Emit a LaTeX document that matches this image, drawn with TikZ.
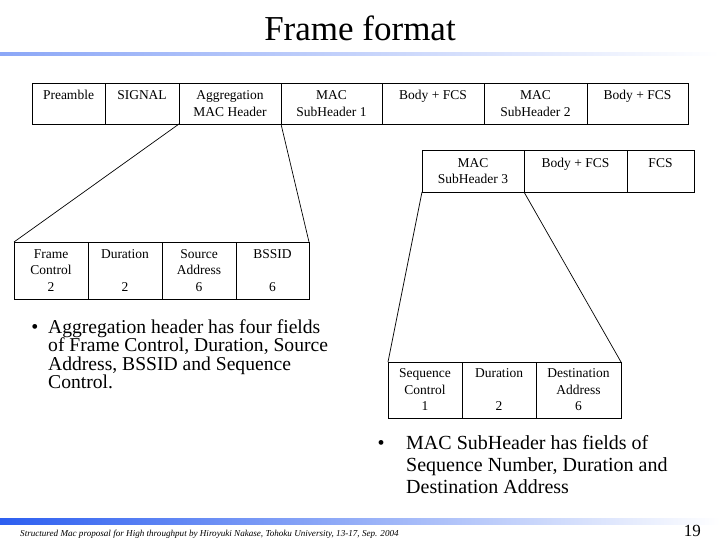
\documentclass[tikz,border=0pt]{standalone}
\usepackage{fontspec}
\setmainfont{Liberation Serif}
\usepackage{xcolor}
\definecolor{BarBlue}{RGB}{45,95,240}
\usepackage{tikz}
\usetikzlibrary{positioning}

\begin{document}
\begin{tikzpicture}[
    x=1pt,y=-1pt,
    cell/.style={draw,line width=0.8pt,inner sep=0pt,outer sep=0pt,align=center,font=\fontsize{13.5}{16.5}\selectfont},
    hdr/.style={cell,minimum height=41pt},
    fld/.style={cell,minimum height=57pt},
    bullettext/.style={anchor=base west,align=left,inner sep=0pt,font=\fontsize{19.6}{18.6}\selectfont},
    dot/.style={anchor=base,inner sep=0pt,font=\fontsize{20}{20}\selectfont},
    link/.style={line width=0.7pt},
  ]
    \useasboundingbox (0,0) rectangle (720,540);

    % title and bars
    \node[anchor=base,inner sep=0pt,font=\fontsize{35}{40}\selectfont] (title) at (360,41) {Frame format};
    \shade[left color=BarBlue!55,right color=white] (0,53) rectangle (720,56);
    \shade[left color=BarBlue,right color=white] (0,518) rectangle (720,524);

    % whole frame
    \node[hdr,minimum width=73pt,anchor=north west] (pre) at (32,83) {Preamble\\\mbox{}};
    \node[hdr,minimum width=74pt,right=0pt of pre] (sig) {SIGNAL\\\mbox{}};
    \node[hdr,minimum width=102pt,right=0pt of sig] (agg) {Aggregation\\MAC Header};
    \node[hdr,minimum width=101pt,right=0pt of agg] (sub1) {MAC\\SubHeader 1};
    \node[hdr,minimum width=102pt,right=0pt of sub1] (body1) {Body + FCS\\\mbox{}};
    \node[hdr,minimum width=103pt,right=0pt of body1] (sub2) {MAC\\SubHeader 2};
    \node[hdr,minimum width=101pt,right=0pt of sub2] (body2) {Body + FCS\\\mbox{}};

    % last subframe
    \node[hdr,minimum width=102pt,minimum height=42pt,anchor=north west] (sub3) at (422,150) {MAC\\SubHeader 3};
    \node[hdr,minimum width=103pt,minimum height=42pt,right=0pt of sub3] (body3) {Body + FCS\\\mbox{}};
    \node[hdr,minimum width=67pt,minimum height=42pt,right=0pt of body3] (fcs) {FCS\\\mbox{}};

    % aggregation header fields
    \node[fld,minimum width=74pt,anchor=north west] (fc) at (14,242) {Frame\\Control\\2};
    \node[fld,minimum width=74pt,right=0pt of fc] (dur) {Duration\\\mbox{}\\2};
    \node[fld,minimum width=74pt,right=0pt of dur] (sa) {Source\\Address\\6};
    \node[fld,minimum width=73pt,right=0pt of sa] (bssid) {BSSID\\\mbox{}\\6};

    % subheader fields
    \node[fld,minimum width=74pt,minimum height=56pt,anchor=north west] (seq) at (388,362) {Sequence\\Control\\1};
    \node[fld,minimum width=74pt,minimum height=56pt,right=0pt of seq] (dur2) {Duration\\\mbox{}\\2};
    \node[fld,minimum width=85pt,minimum height=56pt,right=0pt of dur2] (da) {Destination\\Address\\6};

    \draw[link] (agg.south west) -- (fc.north west);
    \draw[link] (sub1.south west) -- (bssid.north east);
    \draw[link] (sub3.south west) -- (seq.north west);
    \draw[link] (sub3.south east) -- (da.north east);

    % notes (base = last line)
    \node[dot] (dota) at (35,333) {\textbullet};
    \node[bullettext] (notea) at (48,388.8) {Aggregation header has four fields\\of Frame Control, Duration, Source\\Address, BSSID and Sequence\\Control.};
    \node[dot] (dotb) at (381,449) {\textbullet};
    \node[bullettext,font=\fontsize{20}{22}\selectfont] (noteb) at (406,493) {MAC SubHeader has fields of\\Sequence Number, Duration and\\Destination Address};

    % footer
    \node[anchor=base west,inner sep=0pt,font=\fontsize{9.1}{10}\selectfont\itshape] (foot) at (20,536) {Structured Mac proposal for High throughput by Hiroyuki Nakase, Tohoku University, 13-17, Sep. 2004};
    \node[anchor=base east,inner sep=0pt,font=\fontsize{17}{17}\selectfont] (page) at (701,536) {19};
  \end{tikzpicture}
\end{document}
